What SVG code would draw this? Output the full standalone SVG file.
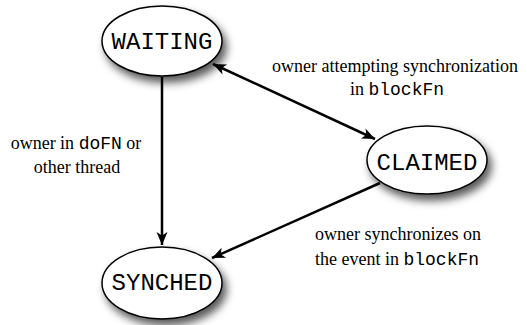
<svg xmlns="http://www.w3.org/2000/svg" width="527" height="325" viewBox="0 0 527 325">
  <style>
    .state { fill: #ffffff; stroke: #000000; stroke-width: 1.5; filter: url(#shade); }
    .name { font-family: "Liberation Mono", "Courier New", monospace; font-size: 24px; text-anchor: middle; fill: #000; }
    .lbl { font-family: "Liberation Serif", "Times New Roman", serif; font-size: 18px; text-anchor: middle; fill: #000; }
    .code { font-family: "Liberation Mono", "Courier New", monospace; font-size: 18px; }
    .edge { stroke: #000; stroke-width: 2.5; fill: none; }
  </style>
  <defs>
    <filter id="shade" x="-30%" y="-30%" width="160%" height="170%">
      <feDropShadow dx="4" dy="6" stdDeviation="4" flood-color="#000" flood-opacity="0.65"/>
    </filter>
    <marker id="head" markerUnits="userSpaceOnUse" markerWidth="16" markerHeight="14" refX="14" refY="7" orient="auto-start-reverse" viewBox="0 0 16 14">
      <path d="M14,7 L1,1.5 L4.5,7 L1,12.5 Z" fill="#000"/>
    </marker>
  </defs>

  <g id="connectors">
    <line class="edge" x1="162" y1="77" x2="162" y2="245" marker-end="url(#head)"/>
    <line class="edge" x1="213" y1="64" x2="375" y2="139" marker-start="url(#head)" marker-end="url(#head)"/>
    <line class="edge" x1="380" y1="183" x2="212" y2="258" marker-end="url(#head)"/>
  </g>

  <g id="waiting">
    <ellipse class="state" cx="162" cy="41" rx="60" ry="35"/>
    <text class="name" x="162" y="49">WAITING</text>
  </g>

  <g id="claimed">
    <ellipse class="state" cx="427" cy="160" rx="60" ry="34"/>
    <text class="name" x="427" y="170">CLAIMED</text>
  </g>

  <g id="synched">
    <ellipse class="state" cx="162" cy="283" rx="60" ry="36"/>
    <text class="name" x="162" y="290">SYNCHED</text>
  </g>

  <g id="labels">
    <text class="lbl" x="395" y="72">owner attempting synchronization</text>
    <text class="lbl" x="397" y="95">in <tspan class="code">blockFn</tspan></text>
    <text class="lbl" x="76" y="149">owner in <tspan class="code">doFN</tspan> or</text>
    <text class="lbl" x="77" y="173">other thread</text>
    <text class="lbl" x="398" y="240">owner synchronizes on</text>
    <text class="lbl" x="397" y="265">the event in <tspan class="code">blockFn</tspan></text>
  </g>
</svg>
